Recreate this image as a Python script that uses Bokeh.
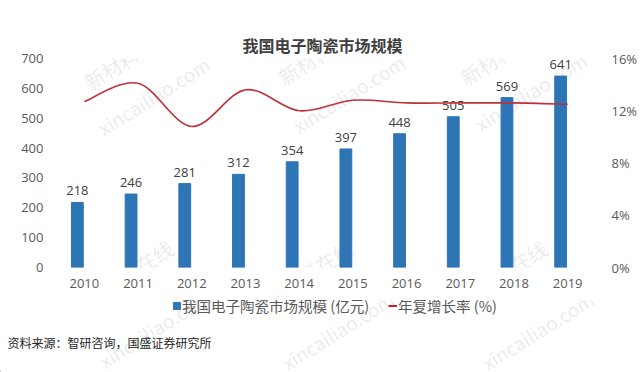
from bokeh.plotting import figure
from bokeh.layouts import column
from bokeh.models import (Range1d, FactorRange, LinearAxis, FixedTicker, PrintfTickFormatter,
                          Legend, LegendItem, Label, ColumnDataSource)
from bokeh.transform import dodge
from bokeh.core.properties import value
from bokeh.embed import file_html
from bokeh.resources import INLINE

years = ["2010", "2011", "2012", "2013", "2014", "2015", "2016", "2017", "2018", "2019"]
market = [218, 246, 281, 312, 354, 397, 448, 505, 569, 641]
growth = [12.7, 14.1, 10.8, 13.6, 12.0, 12.8, 12.6, 12.6, 12.6, 12.5]
left_ticks = [0, 100, 200, 300, 400, 500, 600, 700]
right_ticks = [0, 4, 8, 12, 16]

title_text = "我国电子陶瓷市场规模"
bar_name = "我国电子陶瓷市场规模 (亿元)"
line_name = "年复增长率 (%)"
source_text = "资料来源：智研咨询，国盛证券研究所"
wm_cn = "新材料在线"
wm_en = "xincailiao.com"

FONT = "Noto Sans CJK SC"
NUMF = "Open Sans"
AX = "#595959"
BAR_C = "#2E75B6"
LINE_C = "#C0303A"

W, H1, H2 = 640, 300, 72
FL, FR, FT, FB = 57, 601, 58, 267   # main frame edges in page pixels
p = figure(x_range=FactorRange(*years), y_range=Range1d(0, 700), width=W, height=H1,
           output_backend="svg", toolbar_location=None,
           min_border_left=FL, min_border_right=W - FR, min_border_top=FT,
           min_border_bottom=H1 - FB)
p.extra_y_ranges = {"pct": Range1d(0, 16)}
p.outline_line_color = None
p.xgrid.grid_line_color = None
p.ygrid.grid_line_color = None

# lower strip for legend and source note
p2 = figure(x_range=Range1d(0, W), y_range=Range1d(0, H2), width=W, height=H2,
            output_backend="svg", toolbar_location=None, x_axis_type=None, y_axis_type=None,
            min_border=0)
p2.outline_line_color = None
try:
    p2.frame_align = False
    p.frame_align = False
except Exception:
    pass

# faint watermarks: (centre x, centre y in page px, text, size, which strip)
wms = [(128, 57, wm_cn, 20, 0), (322, 52, wm_cn, 20, 0), (504, 52, wm_cn, 20, 0),
       (153, 95, wm_en, 19, 0), (348, 93, wm_en, 19, 0), (530, 91, wm_en, 19, 0),
       (128, 272, wm_cn, 20, 0), (308, 272, wm_cn, 20, 0), (502, 272, wm_cn, 20, 0),
       (154, 328, wm_en, 19, 1), (337, 330, wm_en, 19, 1), (537, 330, wm_en, 19, 1)]
for cx, cy, t, fs, k in wms:
    fig, ox, oy = [(p, FL, FB), (p2, 0, H1 + H2)][k]
    fig.add_layout(Label(x=cx - ox, y=oy - cy, x_units="screen", y_units="screen", text=t,
                         angle=0.56, text_align="center", text_baseline="middle",
                         text_font=FONT, text_font_size=f"{fs}px", text_color="#a0a0a0",
                         text_alpha=0.22, level="underlay"))

src = ColumnDataSource(dict(year=years, market=market, label=[str(v) for v in market]))
xb = dodge("year", -0.13, range=p.x_range)
p.vbar(x=xb, top="market", width=0.22, source=src, color=BAR_C)
p.text(x=xb, y="market", text="label", source=src, text_align="center", text_baseline="bottom",
       y_offset=-7, text_font=value(NUMF), text_font_size="13px", text_color="#404040")

# smooth growth-rate curve (Catmull-Rom -> Bezier segments through the data points)
xs = [i + 0.5 for i in range(len(years))]
n = len(xs)
x0, y0, x1, y1, cx0, cy0, cx1, cy1 = [], [], [], [], [], [], [], []
for i in range(n - 1):
    pm = (xs[max(i - 1, 0)], growth[max(i - 1, 0)])
    pa = (xs[i], growth[i])
    pb = (xs[i + 1], growth[i + 1])
    pn = (xs[min(i + 2, n - 1)], growth[min(i + 2, n - 1)])
    x0.append(pa[0]); y0.append(pa[1]); x1.append(pb[0]); y1.append(pb[1])
    cx0.append(pa[0] + (pb[0] - pm[0]) / 6); cy0.append(pa[1] + (pb[1] - pm[1]) / 6)
    cx1.append(pb[0] - (pn[0] - pa[0]) / 6); cy1.append(pb[1] - (pn[1] - pa[1]) / 6)
p.bezier(x0=x0, y0=y0, x1=x1, y1=y1, cx0=cx0, cy0=cy0, cx1=cx1, cy1=cy1,
         line_color=LINE_C, line_width=1.6, y_range_name="pct")

# axes
p.yaxis.ticker = FixedTicker(ticks=left_ticks)
ax_r = LinearAxis(y_range_name="pct", ticker=FixedTicker(ticks=right_ticks),
                  formatter=PrintfTickFormatter(format="%d%%"))
p.add_layout(ax_r, "right")
for ax in [p.xaxis[0], p.yaxis[0], ax_r]:
    ax.axis_line_color = None
    ax.major_tick_line_color = None
    ax.minor_tick_line_color = None
    ax.major_label_text_font = NUMF
    ax.major_label_text_font_size = "13px"
    ax.major_label_text_color = AX
p.yaxis[0].major_label_standoff = 8
ax_r.major_label_standoff = 11
p.xaxis[0].major_label_standoff = 5

# title
p.title.text = title_text
p.title.align = "left"
p.title.offset = 242 - FL
p.title.standoff = 4
p.title.text_font = FONT
p.title.text_font_size = "16px"
p.title.text_font_style = "bold"
p.title.text_color = "#404040"

# legend (in lower strip); proxy renderers sit outside the visible range
lb = p2.vbar(x=[-50], top=[1], width=1, color=BAR_C)
ll = p2.line(x=[-60, -50], y=[1, 1], line_color="#D02030", line_width=2)
legend = Legend(items=[LegendItem(label=bar_name, renderers=[lb]),
                       LegendItem(label=line_name, renderers=[ll])],
                location=(172, 56), orientation="horizontal", padding=0, margin=0,
                spacing=19, label_standoff=1, glyph_width=9, glyph_height=9,
                label_text_font=FONT, label_text_font_size="14.5px", label_text_color=AX,
                border_line_color=None, background_fill_alpha=0)
p2.add_layout(legend, "center")

p2.add_layout(Label(x=7, y=H1 + H2 - 342, x_units="screen", y_units="screen", text=source_text,
                    text_align="left", text_baseline="middle", text_font=FONT,
                    text_font_size="12px", text_color="#262626"))

layout = column(p, p2, spacing=0)
open("out.html", "w").write(file_html(layout, INLINE))
